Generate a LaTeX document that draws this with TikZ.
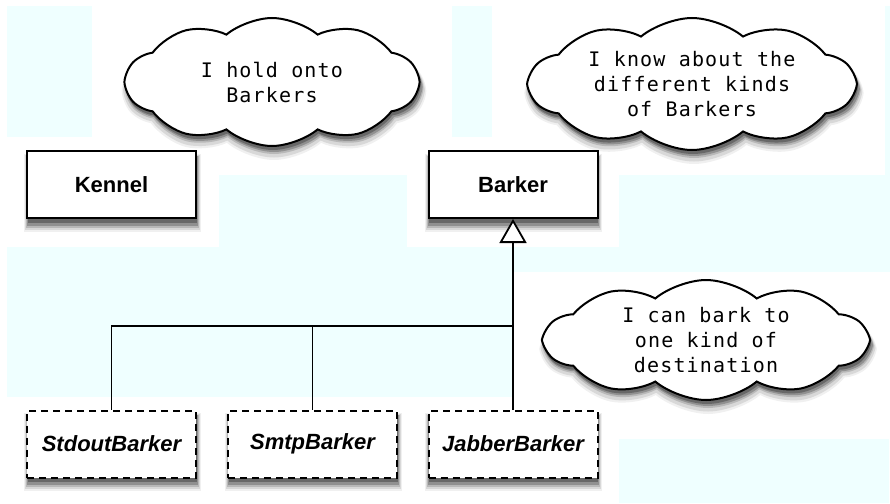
\documentclass[tikz,border=0pt]{standalone}
\usepackage{fontspec}
\usetikzlibrary{shapes.symbols,arrows.meta}
\newfontfamily\cloudfont{DejaVu Sans Mono}[LetterSpace=6]
\newfontfamily\boxfont{Liberation Sans}
\definecolor{bgcyan}{HTML}{EFFFFF}
\definecolor{sh1}{HTML}{F0F0F0}
\definecolor{sh2}{HTML}{D8D8D8}
\definecolor{sh3}{HTML}{B8B8B8}
\definecolor{sh4}{HTML}{909090}
\definecolor{sh5}{HTML}{686868}
\begin{document}
\begin{tikzpicture}[x=1pt,y=-1pt,
  classbox/.style={draw=black, line width=2pt, fill=white, minimum width=169pt, minimum height=67pt, inner sep=0pt,
    font=\boxfont\fontsize{22}{26}\selectfont\bfseries},
  implbox/.style={classbox, dash pattern=on 7pt off 5pt, font=\boxfont\fontsize{22}{26}\selectfont\bfseries\itshape},
  cloudshape/.style={cloud, cloud puffs=10, cloud puff arc=80, cloud ignores aspect, inner sep=0pt},
  cloudnote/.style={cloudshape, draw=black, line width=2pt, fill=white, align=center,
    font=\cloudfont\fontsize{20}{25}\selectfont},
  edge/.style={draw=black, line width=1.8pt}
]
\useasboundingbox (0,0) rectangle (890,503);
% background patches
\fill[bgcyan] (7,6) rectangle (92,137);
\fill[bgcyan] (452,6) rectangle (492,137);
\fill[bgcyan] (885,6) rectangle (890,175);
\fill[bgcyan] (219,175) rectangle (407,247);
\fill[bgcyan] (619,175) rectangle (890,272);
\fill[bgcyan] (7,247) rectangle (890,272);
\fill[bgcyan] (7,272) rectangle (513,397);
\fill[bgcyan] (619,439) rectangle (889,503);

% cloud shadows
\node[cloudshape, fill=sh1, minimum width=302pt, minimum height=138pt] (c1s1) at (274,91) {};
\node[cloudshape, fill=sh2, minimum width=299pt, minimum height=135pt] (c1s2) at (274,90) {};
\node[cloudshape, fill=sh3, minimum width=296pt, minimum height=132pt] (c1s3) at (274,88) {};
\node[cloudshape, fill=sh4, minimum width=294pt, minimum height=130pt] (c1s4) at (274,87) {};
\node[cloudshape, fill=sh5, minimum width=292pt, minimum height=128pt] (c1s5) at (273,86) {};
\node[cloudshape, fill=sh1, minimum width=335pt, minimum height=142pt] (c2s1) at (694,93) {};
\node[cloudshape, fill=sh2, minimum width=332pt, minimum height=139pt] (c2s2) at (694,92) {};
\node[cloudshape, fill=sh3, minimum width=329pt, minimum height=136pt] (c2s3) at (694,90) {};
\node[cloudshape, fill=sh4, minimum width=327pt, minimum height=134pt] (c2s4) at (694,89) {};
\node[cloudshape, fill=sh5, minimum width=325pt, minimum height=132pt] (c2s5) at (693,88) {};
\node[cloudshape, fill=sh1, minimum width=332pt, minimum height=130pt] (c3s1) at (708,349) {};
\node[cloudshape, fill=sh2, minimum width=329pt, minimum height=127pt] (c3s2) at (708,348) {};
\node[cloudshape, fill=sh3, minimum width=326pt, minimum height=124pt] (c3s3) at (708,346) {};
\node[cloudshape, fill=sh4, minimum width=324pt, minimum height=122pt] (c3s4) at (708,345) {};
\node[cloudshape, fill=sh5, minimum width=322pt, minimum height=120pt] (c3s5) at (707,344) {};

% box shadows (boxes: x0,y0 = top-left)
\foreach \bx/\by in {27/151, 428/151, 27/410, 228/410, 428/410}{
  \fill[sh1] (\bx-3,\by+3) rectangle (\bx+174,\by+81);
  \fill[sh2] (\bx-2,\by+4) rectangle (\bx+173,\by+79);
  \fill[sh3] (\bx-1,\by+5) rectangle (\bx+172,\by+77);
  \fill[sh4] (\bx,\by+5) rectangle (\bx+171,\by+75);
  \fill[sh5] (\bx+1,\by+4) rectangle (\bx+170,\by+72);
}

% clouds
\node[cloudnote, minimum width=292pt, minimum height=128pt] (c1) at (272,82) {I hold onto\\Barkers};
\node[cloudnote, minimum width=325pt, minimum height=132pt] (c2) at (692,84) {I know about the\\different kinds\\of Barkers};
\node[cloudnote, minimum width=322pt, minimum height=120pt] (c3) at (706,340) {I can bark to\\one kind of\\destination};

% classes
\node[classbox] (kennel) at (111.5,184.5) {Kennel};
\node[classbox] (barker) at (513,184.5) {Barker};
\node[implbox] (stdout) at (111.5,444) {StdoutBarker};
\node[implbox] (smtp) at (312.5,444) {SmtpBarker};
\node[implbox] (jabber) at (513,444) {JabberBarker};

% connectors
\coordinate (j) at (513,326);
\draw[edge] (stdout.north) |- (j);
\draw[edge] (smtp.north) -- (smtp.north |- j);
\draw[edge, -{Triangle[open, width=27pt, length=24pt, fill=white]}] (jabber.north) -- (barker.south);
\end{tikzpicture}
\end{document}
